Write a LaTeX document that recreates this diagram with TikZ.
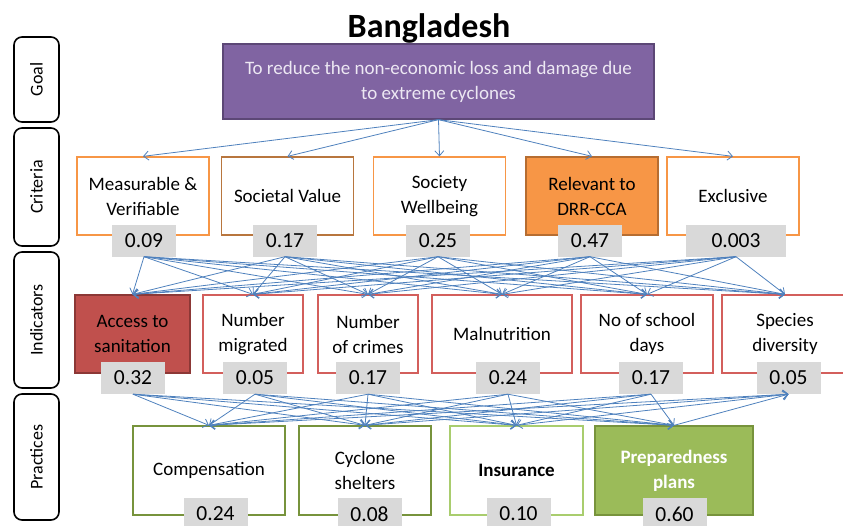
\documentclass[tikz,border=0pt]{standalone}
\usepackage{fontspec}
\setmainfont{Carlito}
\usepackage{xcolor}
\usetikzlibrary{shapes,arrows,positioning,arrows.meta}

\definecolor{goalfill}{HTML}{8064A2}
\definecolor{goaldraw}{HTML}{5C4776}
\definecolor{goaltext}{HTML}{EDE8F3}
\definecolor{critline}{HTML}{F79646}
\definecolor{critdark}{HTML}{B66D31}
\definecolor{socline}{HTML}{B8763E}
\definecolor{indline}{HTML}{D35F5C}
\definecolor{indfill}{HTML}{C0504D}
\definecolor{inddark}{HTML}{8C3836}
\definecolor{pracline}{HTML}{77933C}
\definecolor{praclight}{HTML}{A9CD6E}
\definecolor{pracfill}{HTML}{9BBB59}
\definecolor{valfill}{HTML}{D9D9D9}
\definecolor{linkblue}{HTML}{4F81BD}

\tikzset{
    side/.style={rectangle, draw=black, line width=1.6pt, rounded corners=8pt, fill=white,
        minimum height=45pt, rotate=90, font=\fontsize{18}{22}\selectfont},
    box/.style={rectangle, draw, line width=1.3pt, fill=white, align=center,
        minimum height=78pt, font=\fontsize{19}{25}\selectfont},
    critbox/.style={box, draw=critline, minimum width=132pt},
    indbox/.style={box, draw=indline},
    pracbox/.style={box, draw=pracline, minimum height=89pt},
    val/.style={rectangle, fill=valfill, minimum width=64pt, minimum height=32pt,
        inner sep=0pt, font=\fontsize{21.5}{24}\selectfont},
    link/.style={draw=linkblue, line width=0.8pt, -{Straight Barb[length=5pt,width=9pt]}}
}

\begin{document}
\begin{tikzpicture}[x=1pt, y=-1pt]
    \useasboundingbox (0,0) rectangle (843,525);

    % Title and row labels
    \node[font=\fontsize{34}{40}\selectfont\bfseries] (title) at (429,28) {Bangladesh};
    \node[side, minimum width=85pt] (lgoal) at (36.5,79.5) {Goal};
    \node[side, minimum width=118pt] (lcrit) at (36.5,187) {Criteria};
    \node[side, minimum width=136pt] (lind) at (36.5,320) {Indicators};
    \node[side, minimum width=126pt] (lprac) at (36.5,457) {Practices};

    % Goal
    \node[box, fill=goalfill, draw=goaldraw, text=goaltext, minimum width=431pt, minimum height=75pt]
        (goal) at (438.5,81.5) {To reduce the non-economic loss and damage due\\to extreme cyclones};

    % Criteria
    \node[critbox] (measure) at (143,196) {Measurable \&\\Verifiable};
    \node[critbox, draw=socline] (societal) at (287.5,196) {Societal Value};
    \node[critbox] (wellbeing) at (439.5,196) {Society\\Wellbeing};
    \node[critbox, fill=critline, draw=critdark] (relevant) at (592,196) {Relevant to\\DRR-CCA};
    \node[critbox] (exclusive) at (733,196) {Exclusive};

    \node[val] (vmeasure) at (144,240.5) {0.09};
    \node[val] (vsocietal) at (285,240.5) {0.17};
    \node[val] (vwellbeing) at (438,240.5) {0.25};
    \node[val] (vrelevant) at (590,240.5) {0.47};
    \node[val, minimum width=100pt] (vexclusive) at (736,240.5) {0.003};

    % Indicators
    \node[indbox, fill=indfill, draw=inddark, minimum width=115pt] (sanit) at (132.5,334) {Access to\\sanitation};
    \node[indbox, minimum width=100pt] (migrated) at (253,334) {Number\\migrated};
    \node[indbox, minimum width=100pt] (crimes) at (368,334) {Number\\of crimes};
    \node[indbox, minimum width=140pt] (malnut) at (502,334) {Malnutrition};
    \node[indbox, minimum width=132pt] (school) at (647,334) {No of school\\days};
    \node[indbox, minimum width=126pt] (species) at (785,334) {Species\\diversity};

    \node[val] (vsanit) at (133,378) {0.32};
    \node[val] (vmigrated) at (255,378) {0.05};
    \node[val] (vcrimes) at (368,378) {0.17};
    \node[val] (vmalnut) at (508,378) {0.24};
    \node[val] (vschool) at (651,378) {0.17};
    \node[val] (vspecies) at (788.5,378) {0.05};

    % Practices
    \node[pracbox, minimum width=152pt] (comp) at (209,470.5) {Compensation};
    \node[pracbox, minimum width=132pt] (shelters) at (365,470.5) {Cyclone\\shelters};
    \node[pracbox, draw=praclight, minimum width=133pt] (insur) at (516.5,470.5) {\bfseries Insurance};
    \node[pracbox, fill=pracfill, draw=pracline, text=white, minimum width=158pt]
        (prepared) at (674,470.5) {\bfseries Preparedness\\\bfseries plans};

    \node[val] (vcomp) at (215.5,514) {0.24};
    \node[val] (vshelters) at (369.5,514) {0.08};
    \node[val] (vinsur) at (518.5,514) {0.10};
    \node[val] (vprepared) at (674.5,514) {0.60};

    % Connectors
    \foreach \t in {measure,societal,wellbeing,relevant,exclusive}
        \draw[link] (goal.south) -- (\t.north);
    \foreach \s in {vmeasure,vsocietal,vwellbeing,vrelevant,vexclusive}
        \foreach \t in {sanit,migrated,crimes,malnut,school,species}
            \draw[link] (\s.south) -- (\t.north);
    \foreach \s in {vsanit,vmigrated,vcrimes,vmalnut,vschool}
        \foreach \t in {comp,shelters,insur,prepared}
            \draw[link] (\s.south) -- (\t.north);
    \foreach \t in {comp,shelters,insur,prepared}
        \draw[link] (\t.north) -- (vspecies.south);
\end{tikzpicture}
\end{document}
